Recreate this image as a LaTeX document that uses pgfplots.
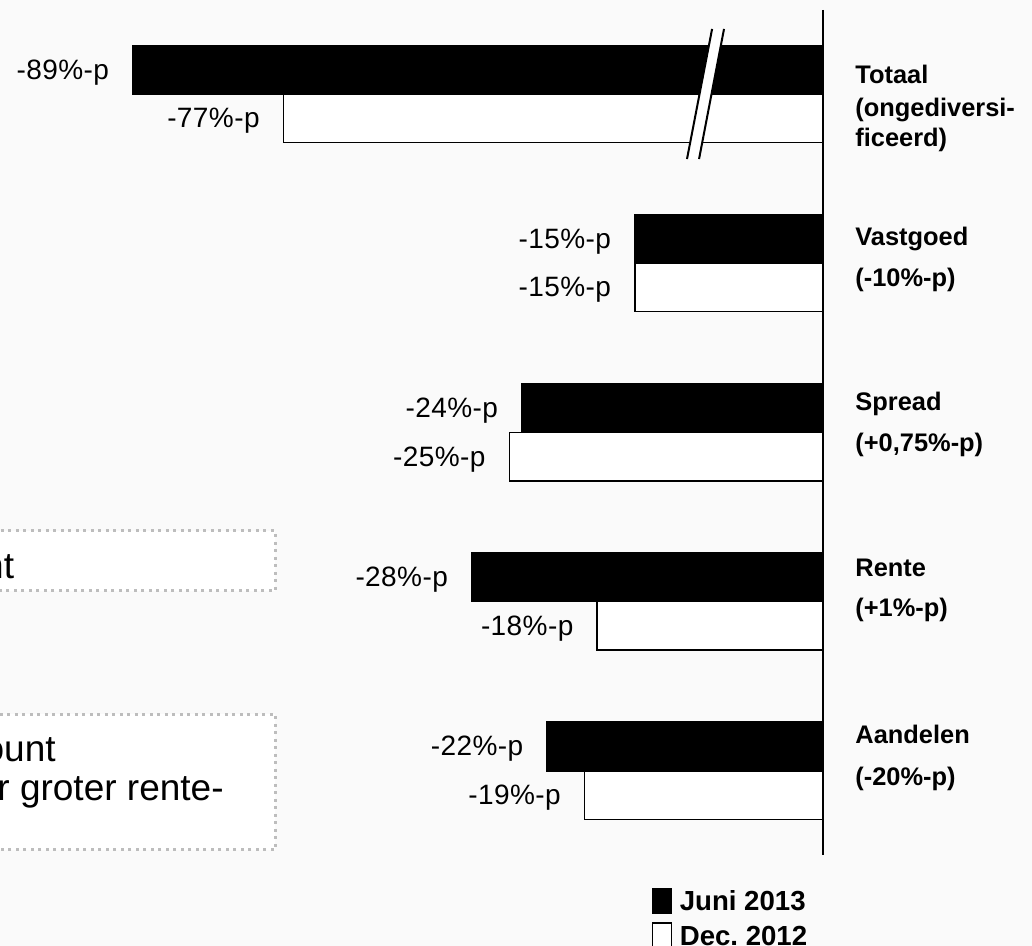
\documentclass[border=0pt]{standalone}
\usepackage{pgfplots}
\usepackage{pgfplotstable}
\pgfplotsset{compat=1.18}
\usepackage{fontspec}
\setmainfont{Liberation Sans}
\newfontfamily\valfont[LetterSpace=1.5]{Liberation Sans}
\frenchspacing

\definecolor{bg}{HTML}{FAFAFA}
\definecolor{boxline}{HTML}{BDBDBD}

% pos: 4 = Totaal ... 0 = Aandelen
\pgfplotstableread{
pos juni dec
4   -89  -77
3   -15  -15
2   -24  -25
1   -28  -18
0   -22  -19
}\verschil

\tikzset{
  catlab/.style={anchor=base west, inner sep=0pt, font=\bfseries\fontsize{12.7}{15}\selectfont},
  boxtxt/.style={anchor=base east, inner sep=0pt, font=\fontsize{18.5}{22}\selectfont},
  notebox/.style={draw=boxline, fill=white, line width=1.5pt, dash pattern=on 1.5pt off 2.25pt},
}

\begin{document}
\begin{tikzpicture}
\begin{axis}[
  name=ax,
  scale only axis, width=516pt, height=473pt,
  % broken value axis: everything left of -45 is moved 34 units to the right
  x coord trafo/.code={\pgfmathparse{#1 < -45 ? #1+34 : #1}},
  xmin=-99.58, xmax=16.65, ymin=-1.0355, ymax=4.555,
  axis line style={draw=none}, xtick=\empty, ytick=\empty,
  axis background/.style={fill=bg},
  xbar, bar width=24.3pt,
  point meta=explicit,
  nodes near coords={\pgfmathprintnumber[assume math mode=true]{\pgfplotspointmeta}\%-p},
  every node near coord/.append style={anchor=east, inner sep=0pt, xshift=-11.5pt, yshift=-1.3pt,
    font=\valfont\fontsize{14}{16}\selectfont},
  legend cell align=left,
  legend style={at={(axis cs:-13.65,-0.693)}, anchor=north west, draw=none, fill=none,
    inner sep=0pt, outer sep=0pt, row sep=4.3pt,
    nodes={inner sep=0pt}, cells={anchor=base west},
    font=\bfseries\fontsize{13.8}{16}\selectfont,
    /tikz/every odd column/.append style={column sep=3.8pt}},
  legend image code/.code={\draw[#1, line width=0.75pt] (0pt,-1pt) rectangle (9.5pt,11pt);},
]
% annotation boxes on the left
\draw[notebox] (rel axis cs:-0.05,0.3753) rectangle (rel axis cs:0.2665,0.4387);
\draw[notebox] (rel axis cs:-0.05,0.1015) rectangle (rel axis cs:0.2665,0.2452);
\node[boxtxt] at (rel axis cs:0.01405,0.3887) {punt};
\node[boxtxt] at (rel axis cs:0.0543,0.1948) {discount};
\node[boxtxt] at (rel axis cs:0.2171,0.1543) {door groter rente-};

\addplot[fill=black, draw=black, line width=0.75pt, bar shift=12.15pt]
  table[x=juni, y=pos, meta=juni] {\verschil};
\addplot[fill=white, draw=black, line width=0.75pt, bar shift=-12.15pt]
  table[x=dec, y=pos, meta=dec] {\verschil};
\legend{Juni 2013, Dec. 2012}

% axis break on the Totaal bars
\fill[white] (axis cs:-8.84,4.384) -- (axis cs:-7.89,4.384) -- (axis cs:-9.88,3.615) -- (axis cs:-10.84,3.615) -- cycle;
\draw[line width=1pt] (axis cs:-8.84,4.384) -- (axis cs:-10.84,3.615);
\draw[line width=1pt] (axis cs:-7.89,4.384) -- (axis cs:-9.88,3.615);

% value axis at zero
\draw[line width=1.2pt] (axis cs:0,4.496) -- (axis cs:0,-0.498);

% category labels
\node[catlab] at (axis cs:2.55,4.0626) {Totaal};
\node[catlab] at (axis cs:2.55,3.869) {(ongediversi-};
\node[catlab] at (axis cs:2.55,3.692) {ficeerd)};
\node[catlab] at (axis cs:2.55,3.107) {Vastgoed};
\node[catlab] at (axis cs:2.55,2.861) {(-10\%-p)};
\node[catlab] at (axis cs:2.55,2.128) {Spread};
\node[catlab] at (axis cs:2.55,1.885) {(+0,75\%-p)};
\node[catlab] at (axis cs:2.55,1.147) {Rente};
\node[catlab] at (axis cs:2.55,0.910) {(+1\%-p)};
\node[catlab] at (axis cs:2.55,0.162) {Aandelen};
\node[catlab] at (axis cs:2.55,-0.085) {(-20\%-p)};
\end{axis}
\pgfresetboundingbox
\path[use as bounding box] (ax.south west) rectangle (ax.north east);
\end{tikzpicture}
\end{document}
